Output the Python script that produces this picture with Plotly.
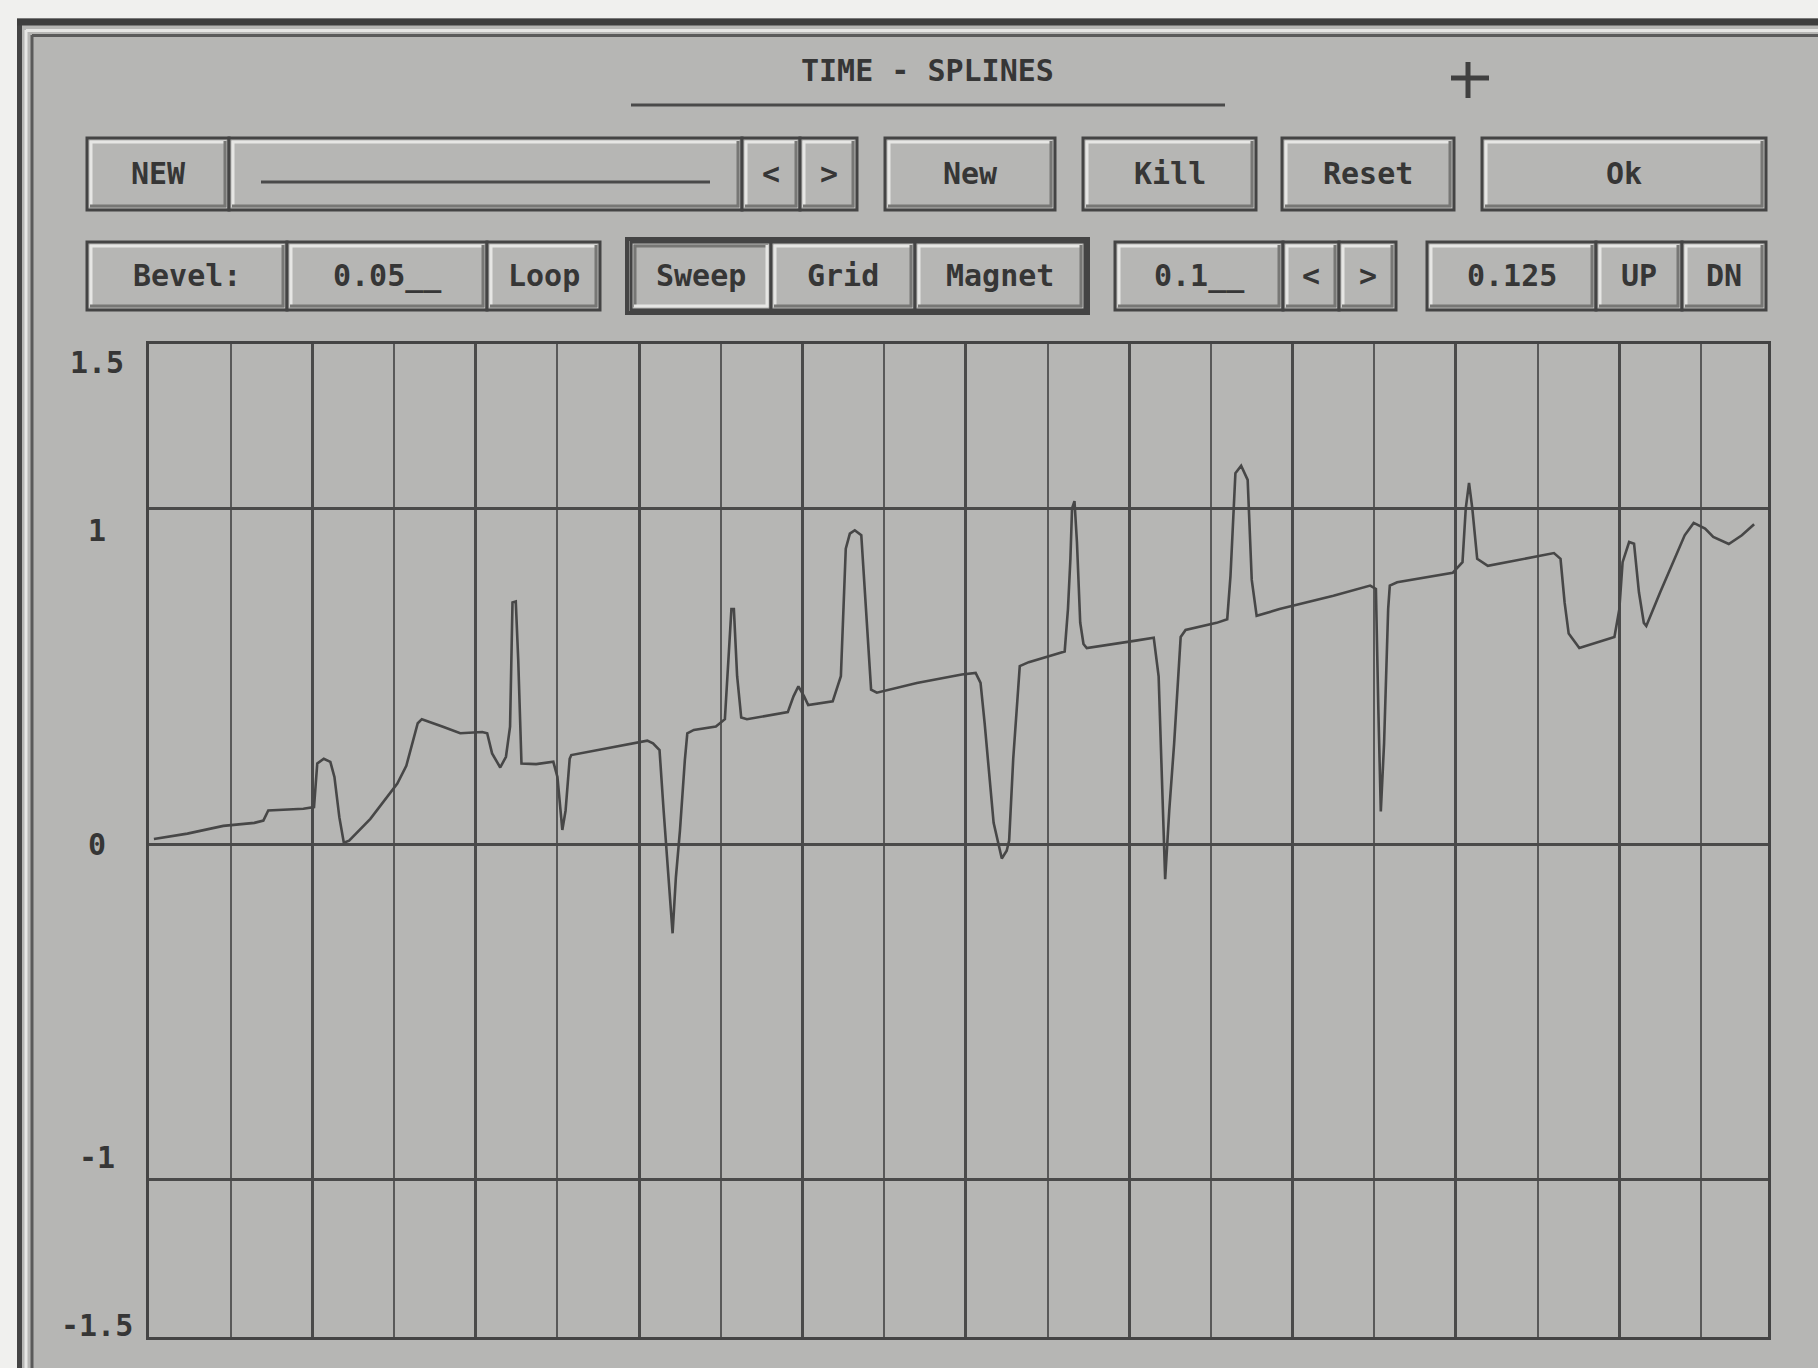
import plotly.graph_objects as go

# ---------------- data ----------------
time_x = [0.06, 0.47, 0.91, 1.29, 1.40, 1.46, 1.89, 2.02, 2.06, 2.14, 2.22, 2.27, 2.33, 2.385, 2.45,
          2.71, 3.04, 3.15, 3.29, 3.34, 3.59, 3.81, 4.08, 4.14, 4.20, 4.30, 4.37, 4.42, 4.45, 4.49,
          4.52, 4.56, 4.74, 4.95, 5.00, 5.06, 5.10, 5.15, 5.17, 5.60, 6.10, 6.17, 6.25, 6.30, 6.41,
          6.45, 6.50, 6.56, 6.59, 6.67, 6.94, 7.05, 7.10, 7.13, 7.16, 7.20, 7.25, 7.32, 7.82, 7.89,
          7.95, 8.02, 8.07, 8.37, 8.47, 8.53, 8.58, 8.64, 8.72, 8.78, 8.84, 8.91, 9.40, 9.95, 10.12,
          10.18, 10.23, 10.34, 10.44, 10.50, 10.53, 10.58, 10.66, 10.77, 11.21, 11.25, 11.28, 11.30,
          11.33, 11.36, 11.40, 11.44, 11.48, 12.08, 12.30, 12.36, 12.44, 12.49, 12.55, 12.63, 12.69,
          13.07, 13.20, 13.24, 13.30, 13.37, 13.45, 13.50, 13.56, 13.84, 14.50, 14.95, 15.02, 15.05,
          15.08, 15.12, 15.17, 15.19, 15.28, 15.96, 16.08, 16.12, 16.16, 16.20, 16.26, 16.39, 17.20,
          17.28, 17.33, 17.38, 17.51, 17.94, 18.00, 18.04, 18.12, 18.18, 18.24, 18.30, 18.33, 18.50,
          18.66, 18.80, 18.91, 19.05, 19.15, 19.34, 19.50, 19.65]
amplitude_y = [0.015, 0.031, 0.054, 0.063, 0.07, 0.100, 0.105, 0.110, 0.240, 0.254, 0.245, 0.20, 0.08, 0.004, 0.01,
               0.075, 0.180, 0.233, 0.360, 0.372, 0.350, 0.330, 0.334, 0.33, 0.27, 0.228, 0.26, 0.35, 0.72, 0.723,
               0.55, 0.24, 0.238, 0.245, 0.20, 0.042, 0.10, 0.254, 0.265, 0.285, 0.308, 0.30, 0.28, 0.10, -0.266,
               -0.10, 0.04, 0.25, 0.330, 0.340, 0.350, 0.372, 0.60, 0.70, 0.70, 0.50, 0.377, 0.372, 0.393, 0.44,
               0.470, 0.44, 0.414, 0.425, 0.50, 0.880, 0.925, 0.935, 0.920, 0.70, 0.46, 0.451, 0.480, 0.505, 0.510,
               0.48, 0.36, 0.063, -0.043, -0.02, 0.01, 0.254, 0.530, 0.542, 0.574, 0.70, 0.85, 1.00,
               1.022, 0.90, 0.66, 0.596, 0.584, 0.606, 0.615, 0.50, -0.105, 0.10, 0.30, 0.617, 0.638,
               0.659, 0.67, 0.80, 1.105, 1.127, 1.085, 0.787, 0.680, 0.700, 0.740, 0.770, 0.76, 0.40,
               0.097, 0.30, 0.70, 0.770, 0.780, 0.808, 0.84, 1.00, 1.076, 1.00, 0.85, 0.829, 0.867,
               0.85, 0.72, 0.627, 0.584, 0.617, 0.70, 0.840, 0.900, 0.895, 0.75, 0.659, 0.650, 0.75,
               0.840, 0.92, 0.957, 0.94, 0.915, 0.894, 0.92, 0.953]

ytick_values = [1.5, 1, 0, -1, -1.5]
ytick_labels = ["1.5", "1", "0", "-1", "-1.5"]

title_text = "TIME - SPLINES"
row1_labels = ["NEW", "", "<", ">", "New", "Kill", "Reset", "Ok"]
row2_labels = ["Bevel:", "0.05__", "Loop", "Sweep", "Grid", "Magnet", "0.1__", "<", ">", "0.125", "UP", "DN"]

# ---------------- layout geometry (pixels) ----------------
WIDTH, HEIGHT = 1818, 1368
PL, PR, PT, PB = 149, 1768, 344, 1337
PW, PH = PR - PL, PB - PT
Y_RANGE = [-1.469, 1.49]

BG = "#b6b6b4"
DARK = "#444444"
TEXT = "#363636"
LIGHT = "#e6e6e4"
SHADOW = "#777775"
FONT = "DejaVu Sans Mono"


def px(x):
    return (x - PL) / PW


def py(y):
    return (PB - y) / PH


shapes = []
annotations = []


def rect(x0, y0, x1, y1, fill=None, color=None, width=0, layer="above"):
    d = dict(type="rect", xref="paper", yref="paper", x0=px(x0), x1=px(x1), y0=py(y1), y1=py(y0),
             layer=layer, line=dict(width=width, color=color or "rgba(0,0,0,0)"))
    if fill:
        d["fillcolor"] = fill
    shapes.append(d)


def seg(x0, y0, x1, y1, color, width, layer="above"):
    shapes.append(dict(type="line", xref="paper", yref="paper", x0=px(x0), x1=px(x1), y0=py(y0), y1=py(y1),
                       layer=layer, line=dict(color=color, width=width)))


def label(x, y, text, size=30, anchor="center"):
    annotations.append(dict(x=px(x), y=py(y), xref="paper", yref="paper", text="<b>" + text + "</b>",
                            showarrow=False, xanchor=anchor, yanchor="middle",
                            font=dict(family=FONT, size=size, color=TEXT)))


def button(x0, y0, x1, y1, text, pressed=False):
    rect(x0, y0, x1, y1, fill=BG, color=DARK, width=3)
    hi, lo = (SHADOW, LIGHT) if pressed else (LIGHT, SHADOW)
    seg(x0 + 3, y0 + 4, x1 - 3, y0 + 4, hi, 3)
    seg(x0 + 4, y0 + 3, x0 + 4, y1 - 3, hi, 3)
    seg(x0 + 3, y1 - 4, x1 - 3, y1 - 4, lo, 3)
    seg(x1 - 4, y0 + 3, x1 - 4, y1 - 3, lo, 3)
    if text:
        label((x0 + x1) / 2, (y0 + y1) / 2 - 1, text)


# window body and borders
rect(17, 18, 1830, 1380, fill=BG, layer="below")
seg(19.5, 20, 19.5, 1380, DARK, 5, layer="below")
seg(17, 22, 1830, 22, "#3e3e3e", 7, layer="below")
seg(26, 30, 26, 1380, LIGHT, 3, layer="below")
seg(26, 30.5, 1830, 30.5, LIGHT, 3, layer="below")
seg(32, 35, 32, 1380, "#5a5a5a", 3, layer="below")
seg(32, 35.5, 1830, 35.5, "#5a5a5a", 3, layer="below")

# title and underline
label(927, 71, title_text)
seg(631, 105, 1225, 105, "#4a4a4a", 3)

# crosshair cursor
seg(1468, 62, 1468, 98, "#404040", 5)
seg(1451, 78, 1489, 78, "#404040", 5)

# row 1 buttons
r1 = [(87, 229), (229, 742), (742, 800), (800, 857), (885, 1055), (1083, 1256), (1282, 1454), (1482, 1766)]
for (a, b), t in zip(r1, row1_labels):
    button(a, 138, b, 210, t)
seg(261, 182, 710, 182, "#4a4a4a", 3)  # empty text field line

# row 2 buttons
rect(627, 239, 1088, 313, fill=BG, color=DARK, width=4)
r2 = [(87, 287), (287, 487), (487, 600), (631, 771), (771, 915), (915, 1085), (1115, 1283), (1283, 1339),
      (1339, 1396), (1427, 1596), (1596, 1682), (1682, 1766)]
for (a, b), t in zip(r2, row2_labels):
    button(a, 242, b, 310, t, pressed=(t == "Sweep"))

# y tick labels (drawn beside the frame, nudged toward the centre as in the picture)
for v, t in zip(ytick_values, ytick_labels):
    shift = -22 if v > 0 else (22 if v < 0 else 0)
    yp = (v - Y_RANGE[0]) / (Y_RANGE[1] - Y_RANGE[0])
    annotations.append(dict(x=px(97), y=yp, xref="paper", yref="paper", yshift=shift, text="<b>" + t + "</b>",
                            showarrow=False, xanchor="center", yanchor="middle",
                            font=dict(family=FONT, size=30, color=TEXT)))

fig = go.Figure()
fig.add_trace(go.Scatter(x=time_x, y=amplitude_y, mode="lines",
                         line=dict(color="#474747", width=2.6), hoverinfo="skip"))

fig.update_layout(
    width=WIDTH, height=HEIGHT, autosize=False,
    margin=dict(l=PL, r=WIDTH - PR, t=PT, b=HEIGHT - PB, pad=0),
    paper_bgcolor="#f0f0ee", plot_bgcolor=BG,
    showlegend=False,
    shapes=shapes, annotations=annotations,
    xaxis=dict(range=[0, 19.82], tick0=0, dtick=2, showgrid=True, gridcolor="#4a4a4a", gridwidth=2.5,
               minor=dict(tick0=0, dtick=1, showgrid=True, gridcolor="#595959", gridwidth=1.8),
               showticklabels=False, ticks="", zeroline=False,
               showline=True, mirror=True, linecolor="#444444", linewidth=3, fixedrange=True),
    yaxis=dict(range=Y_RANGE, tickvals=[-1, 0, 1], showgrid=True, gridcolor="#4a4a4a", gridwidth=2.5,
               showticklabels=False, ticks="", zeroline=False,
               showline=True, mirror=True, linecolor="#444444", linewidth=3, fixedrange=True),
)

fig.write_html("out.html", config={"displayModeBar": False},
               post_script="document.body.style.margin='0px';document.body.style.overflow='hidden';")
